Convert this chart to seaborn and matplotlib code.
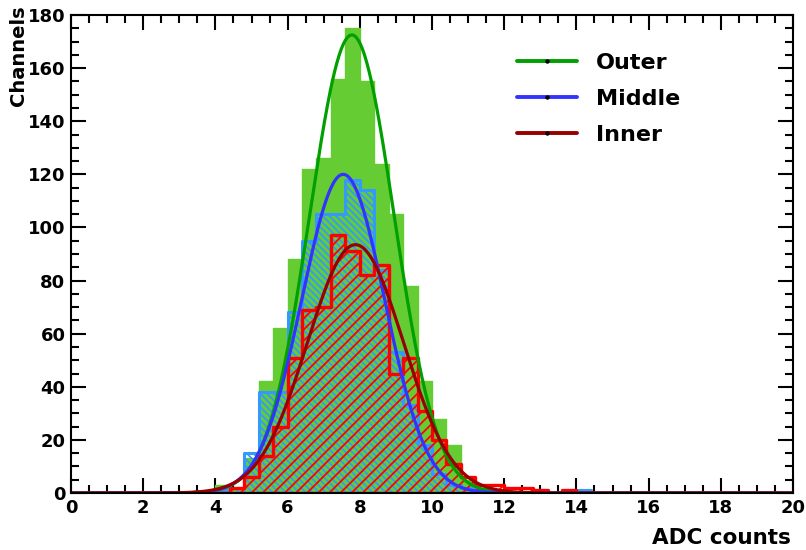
import numpy as np
import pandas as pd
import matplotlib
matplotlib.use("Agg")
import matplotlib.pyplot as plt
import seaborn as sns
from matplotlib.lines import Line2D
from matplotlib.ticker import MultipleLocator

# ---------------- data ----------------
bin_edges = [round(0.4 * i, 2) for i in range(51)]          # 0.4-wide bins, 0..20
bin_centers = [round(0.4 * i + 0.2, 2) for i in range(50)]

outer_counts = [0] * 10 + [3, 2, 13, 42, 62, 88, 122, 126, 156, 175,
                           155, 124, 105, 78, 42, 28, 18, 5, 2, 1] + [0] * 20
middle_counts = [0] * 10 + [1, 2, 15, 38, 38, 68, 95, 105, 105, 118,
                            114, 84, 53, 33, 18, 7, 3, 2, 1,
                            0, 0, 0, 0, 0, 0, 1] + [0] * 14
inner_counts = [0] * 11 + [2, 6, 14, 25, 51, 69, 70, 97, 91, 82,
                           86, 45, 51, 31, 20, 11, 6, 3, 3, 2, 2, 1, 0, 1] + [0] * 15

series_names = ["Outer", "Middle", "Inner"]
fit_amp = [172.5, 120.0, 93.5]
fit_mean = [7.78, 7.54, 7.88]
fit_sigma = [1.17, 1.15, 1.33]

x_ticks = [0, 2, 4, 6, 8, 10, 12, 14, 16, 18, 20]
y_ticks = [0, 20, 40, 60, 80, 100, 120, 140, 160, 180]

# ---------------- style ----------------
sns.set_style("ticks")
plt.rcParams["font.family"] = ["DejaVu Sans"]
plt.rcParams["font.weight"] = "bold"
plt.rcParams["text.color"] = "black"
plt.rcParams["axes.labelcolor"] = "black"
plt.rcParams["xtick.color"] = "black"
plt.rcParams["ytick.color"] = "black"
plt.rcParams["hatch.linewidth"] = 1.3

green_fill = "#66cc33"
blue_hist = "#3399ff"
red_hist = "#ff0000"
curve_colors = ["#00a000", "#3333ff", "#990000"]

fig = plt.figure(figsize=(8.06, 5.5), dpi=100)
ax = fig.add_axes([71 / 806, 1 - 493 / 550, 722 / 806, 478 / 550])

df = pd.DataFrame({
    "adc": bin_centers * 3,
    "count": outer_counts + middle_counts + inner_counts,
    "ring": np.repeat(series_names, len(bin_centers)),
})

# Outer: solid green
sns.histplot(data=df[df.ring == "Outer"], x="adc", weights="count", bins=bin_edges,
             element="step", fill=True, color=green_fill, alpha=1, linewidth=1,
             ax=ax)
# Middle: blue hatched
sns.histplot(data=df[df.ring == "Middle"], x="adc", weights="count", bins=bin_edges,
             element="step", fill=True, color=blue_hist, facecolor="none",
             edgecolor=blue_hist, hatch="\\" * 5, linewidth=2.2, ax=ax)
# Inner: red hatched
sns.histplot(data=df[df.ring == "Inner"], x="adc", weights="count", bins=bin_edges,
             element="step", fill=True, color=red_hist, facecolor="none",
             edgecolor=red_hist, hatch="///", linewidth=2.4, ax=ax)

# Fit curves
xg = np.linspace(0, 20, 1001)
for name, a, m, s, c in zip(series_names, fit_amp, fit_mean, fit_sigma, curve_colors):
    yg = a * np.exp(-0.5 * ((xg - m) / s) ** 2)
    sns.lineplot(x=xg, y=yg, color=c, linewidth=2.3, ax=ax)

ax.set_xlim(0, 20)
ax.set_ylim(0, 180)
ax.set_xticks(x_ticks)
ax.set_yticks(y_ticks)
ax.xaxis.set_minor_locator(MultipleLocator(0.5))
ax.yaxis.set_minor_locator(MultipleLocator(5))
ax.tick_params(which="both", direction="in", top=True, right=True, width=1.5,
               labelsize=13, colors="black")
ax.tick_params(which="major", length=11)
ax.tick_params(which="minor", length=5.5)
ax.tick_params(axis="x", pad=4)
ax.tick_params(axis="y", pad=4)
for sp in ax.spines.values():
    sp.set_linewidth(1.5)
    sp.set_color("black")
    sp.set_visible(True)
ax.set_xlabel("")
ax.set_ylabel("")

fig.text(9 / 806, 1 - 5 / 550, "Channels", rotation=90, ha="left", va="top",
         fontsize=14, fontweight="bold", color="black")
fig.text(791 / 806, 1 - 544 / 550, "ADC counts", ha="right", va="baseline",
         fontsize=15.5, fontweight="bold", color="black")

handles = [Line2D([0], [0], color=c, lw=2.8, marker="o", markersize=2.2,
                  markerfacecolor="black", markeredgecolor="black")
           for c in curve_colors]
leg = ax.legend(handles, series_names, loc="upper left",
                bbox_to_anchor=(517 / 806, 1 - 53 / 550), bbox_transform=fig.transFigure,
                frameon=False, handlelength=2.7, handletextpad=0.85,
                labelspacing=0.72, borderpad=0, borderaxespad=0,
                prop={"weight": "bold", "size": 16})
for t in leg.get_texts():
    t.set_color("black")

fig.savefig("out.png", dpi=100)
